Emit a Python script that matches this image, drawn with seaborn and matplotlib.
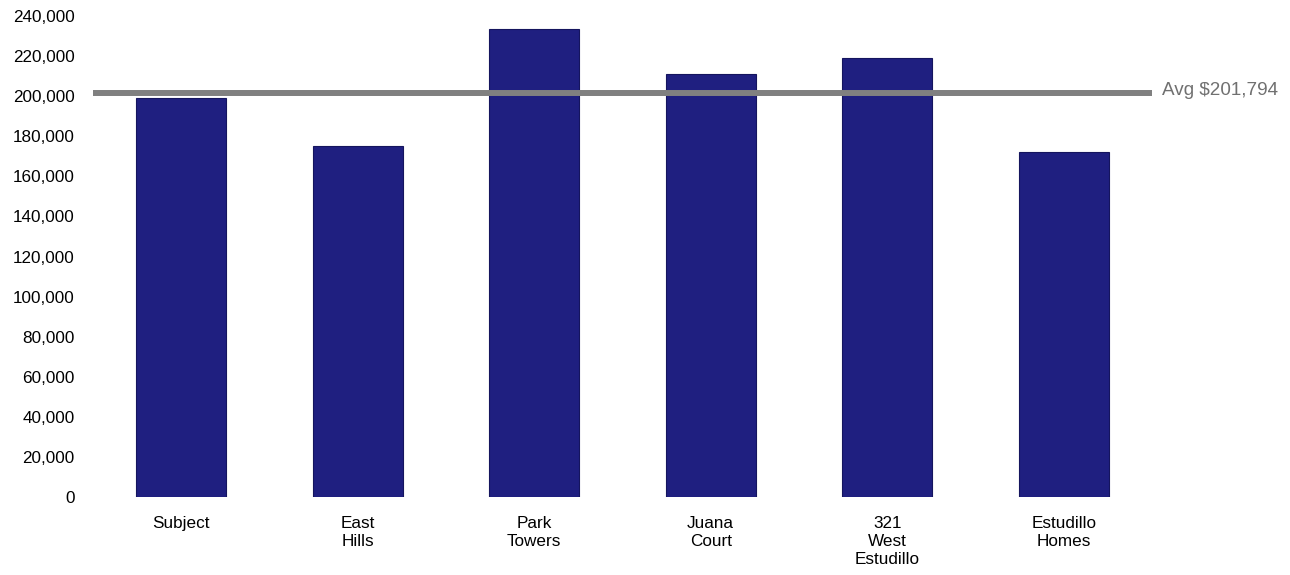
import numpy as np
import pandas as pd
import matplotlib
matplotlib.use("Agg")
import matplotlib.pyplot as plt
import seaborn as sns
from matplotlib.ticker import FuncFormatter

sns.set_theme(style="white")
plt.rcParams["font.family"] = ["Liberation Sans", "DejaVu Sans"]

# --- data ---
properties = ["Subject", "East\nHills", "Park\nTowers", "Juana\nCourt", "321\nWest\nEstudillo", "Estudillo\nHomes"]
values = [199364, 175300, 233700, 210900, 219200, 172300]

df = pd.DataFrame({"Property": properties, "Value": values})
avg = np.mean(values)

fig = plt.figure(figsize=(12.9, 5.75), dpi=100)
ax = fig.add_axes([0.072, 0.1357, 0.821, 0.8363])

sns.barplot(data=df, x="Property", y="Value", color="#1f1f80", width=0.51,
            edgecolor="#15155e", linewidth=0.8, saturation=1, ax=ax)

ax.axhline(avg, color="#808080", lw=4.3, zorder=5, clip_on=False, solid_capstyle="butt")
ax.text(1.009, avg + 1200, f"Avg ${avg:,.0f}", transform=ax.get_yaxis_transform(),
        va="center", ha="left", fontsize=13.6, color="#707070")

ax.set_ylim(0, 240000)
ax.set_yticks(np.arange(0, 240001, 20000))
ax.yaxis.set_major_formatter(FuncFormatter(lambda v, p: f"{v:,.0f}"))
ax.set_xlabel("")
ax.set_ylabel("")
ax.tick_params(axis="both", length=0, labelsize=12.3, colors="black")
ax.tick_params(axis="y", pad=13)
ax.tick_params(axis="x", pad=14)
for lbl in ax.get_xticklabels():
    lbl.set_linespacing(1.25)
for s in ax.spines.values():
    s.set_visible(False)

fig.savefig("out.png", dpi=100)
